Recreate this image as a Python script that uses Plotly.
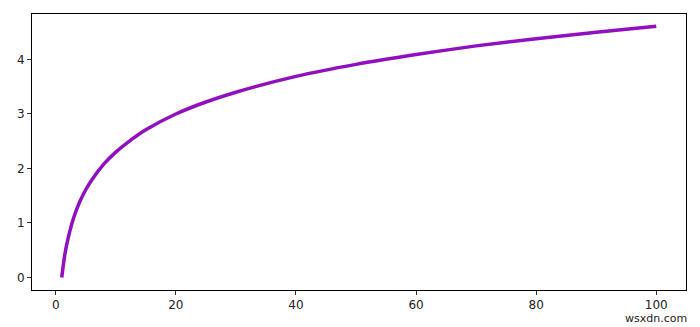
import plotly.graph_objects as go

# Values
x_vals = [1, 1.5, 2, 3, 4, 5, 6, 8, 10, 12, 15, 20, 25, 30, 40, 50, 60, 70, 80, 90, 100]
y_vals = [0.0, 0.41, 0.69, 1.10, 1.39, 1.61, 1.79, 2.08, 2.30, 2.48, 2.71, 3.00, 3.22,
          3.40, 3.69, 3.91, 4.09, 4.25, 4.38, 4.50, 4.61]
x_ticks = [0, 20, 40, 60, 80, 100]
y_ticks = [0, 1, 2, 3, 4]

fig = go.Figure()
fig.add_trace(go.Scatter(x=x_vals, y=y_vals, mode="lines",
                         line=dict(color="#9010C0", width=3.5, shape="spline", smoothing=0.6),
                         showlegend=False, hoverinfo="skip"))

axis_common = dict(showgrid=False, zeroline=False, showline=True, linecolor="black",
                   linewidth=1, mirror=True, ticks="outside", ticklen=4, tickwidth=1,
                   tickcolor="#333", tickfont=dict(family="DejaVu Sans", size=12, color="#222"))
fig.update_xaxes(range=[-3.95, 104.95], tickvals=x_ticks, ticktext=[str(t) for t in x_ticks],
                 **axis_common)
fig.update_yaxes(range=[-0.23, 4.835], tickvals=y_ticks, ticktext=[str(t) for t in y_ticks],
                 **axis_common)

fig.add_annotation(text="wsxdn.com", xref="paper", yref="paper", x=1.005, y=-0.135,
                   xanchor="right", yanchor="bottom", showarrow=False,
                   font=dict(family="DejaVu Sans", size=11, color="#222"))

fig.update_layout(width=700, height=327, margin=dict(l=32, r=14, t=14, b=37),
                  plot_bgcolor="white", paper_bgcolor="white")
fig.write_html("out.html")
